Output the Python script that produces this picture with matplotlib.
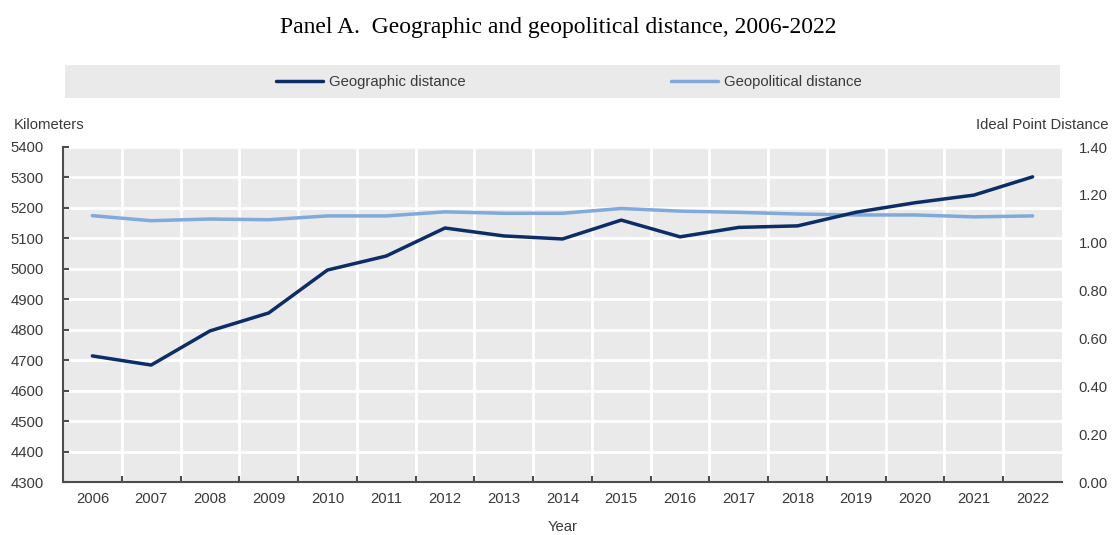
import matplotlib
matplotlib.use("Agg")
import matplotlib.pyplot as plt
from matplotlib.ticker import FixedLocator
from matplotlib.patches import Rectangle
import numpy as np

years = ["2006", "2007", "2008", "2009", "2010", "2011", "2012", "2013", "2014",
         "2015", "2016", "2017", "2018", "2019", "2020", "2021", "2022"]
geographic = [4714, 4684, 4796, 4855, 4996, 5042, 5134, 5108, 5098,
              5160, 5105, 5136, 5141, 5186, 5217, 5242, 5302]
geopolitical = [1.113, 1.092, 1.099, 1.096, 1.112, 1.112, 1.129, 1.123, 1.123,
                1.143, 1.132, 1.127, 1.120, 1.116, 1.116, 1.108, 1.112]
left_ticks = list(range(4300, 5401, 100))
right_ticks = [0.0, 0.2, 0.4, 0.6, 0.8, 1.0, 1.2, 1.4]

SANS = ["Liberation Sans", "DejaVu Sans"]
plt.rcParams["font.family"] = SANS
FS = 10.7
TXT = "#3a3a3a"
BG = "#eaeaea"
NAVY = "#0c2d66"
LIGHT = "#7faadb"
SP = "#4d4d4d"

fig = plt.figure(figsize=(11.12, 5.35), dpi=100)
ax = fig.add_axes([63/1112, 53/535, 999/1112, 335/535])
ax.set_facecolor(BG)
x = np.arange(len(years))

ax.set_xlim(-0.5, len(years) - 0.5)
ax.set_ylim(4300, 5400)
ax.set_yticks(left_ticks)
ax.set_xticks(x)
ax.set_xticklabels(years)
ax.xaxis.set_minor_locator(FixedLocator(np.arange(0.5, len(years) - 0.5, 1.0)))
ax.grid(True, which="minor", axis="x", color="white", linewidth=2)
ax.grid(True, which="major", axis="y", color="white", linewidth=2)
ax.set_axisbelow(True)

for s in ["top", "right"]:
    ax.spines[s].set_visible(False)
for s in ["left", "bottom"]:
    ax.spines[s].set_color(SP)
    ax.spines[s].set_linewidth(1.5)
ax.tick_params(axis="y", which="major", direction="in", length=4, width=1.5,
               color=SP, labelsize=FS, labelcolor=TXT, pad=14)
ax.tick_params(axis="x", which="major", length=0, labelsize=FS, labelcolor=TXT, pad=7)
ax.tick_params(axis="x", which="minor", direction="in", length=4, width=1.5, color=SP)

ax2 = ax.twinx()
for s in ax2.spines.values():
    s.set_visible(False)
l2, = ax2.plot(x, geopolitical, color=LIGHT, linewidth=2.5, label="Geopolitical distance",
               solid_capstyle="round", zorder=2)
l1, = ax2.plot(x, geographic, color=NAVY, linewidth=2.5, label="Geographic distance",
               solid_capstyle="round", zorder=3, transform=ax.transData)
ax2.set_ylim(0, 1.4)
ax2.set_yticks(right_ticks)
ax2.set_yticklabels([f"{v:.2f}" for v in right_ticks])
ax2.tick_params(axis="y", length=0, labelsize=FS, labelcolor=TXT, pad=12)
ax2.patch.set_visible(False)
ax.set_xlim(-0.5, len(years) - 0.5)
ax.set_ylim(4300, 5400)

ax.set_xlabel("Year", fontsize=FS, color=TXT, labelpad=10)

fig.text(14/1112, 1 - 125/535, "Kilometers", fontsize=FS, color=TXT, va="center", ha="left")
fig.text(1109/1112, 1 - 125/535, "Ideal Point Distance", fontsize=FS, color=TXT,
         va="center", ha="right")

fig.text(558/1112, 1 - 27/535, "Panel A.  Geographic and geopolitical distance, 2006-2022",
         fontsize=17, family=["Liberation Serif", "DejaVu Serif"], color="black",
         ha="center", va="center")

fig.patches.append(Rectangle((65/1112, 1 - 98/535), 995/1112, 33/535,
                             transform=fig.transFigure, facecolor=BG, edgecolor="none",
                             zorder=0))
fig.legend(handles=[l1, l2], loc="center", bbox_to_anchor=(569/1112, 1 - 82/535),
           ncol=2, frameon=False, fontsize=FS, handlelength=3.16, handletextpad=0.4,
           columnspacing=13.8, labelcolor=TXT)

fig.savefig("out.png", dpi=100)
